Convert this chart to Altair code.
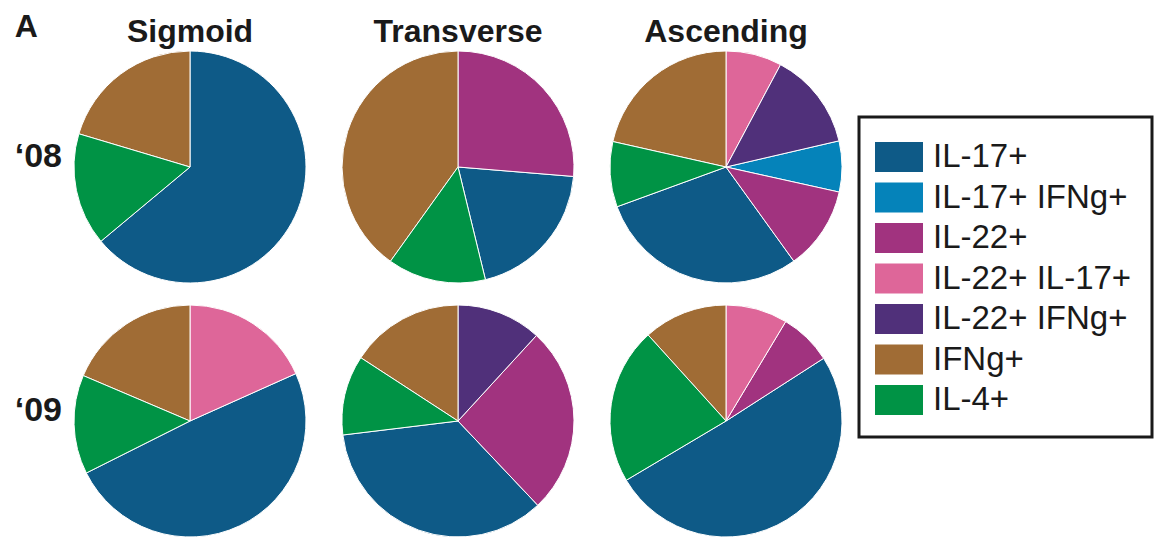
import altair as alt
import pandas as pd

sites = ["Sigmoid", "Transverse", "Ascending"]
years = ["\u201808", "\u201809"]
categories = ["IL-17+", "IL-17+ IFNg+", "IL-22+", "IL-22+ IL-17+", "IL-22+ IFNg+", "IFNg+", "IL-4+"]
colors = ["#0E5A87", "#0583BA", "#A1337F", "#DE6699", "#50307A", "#A06C35", "#009345"]
# clockwise order of slices from 12 o'clock
clockwise = ["IL-22+ IL-17+", "IL-22+ IFNg+", "IL-17+ IFNg+", "IL-22+", "IL-17+", "IL-4+", "IFNg+"]

# percentages per pie: Sigmoid'08, Transverse'08, Ascending'08, Sigmoid'09, Transverse'09, Ascending'09
il17 = [64.0, 19.9, 29.4, 49.3, 35.1, 50.5]
il17_ifng = [0, 0, 7.1, 0, 0, 0]
il22 = [0, 26.3, 11.6, 0, 26.1, 7.3]
il22_il17 = [0, 0, 7.8, 18.3, 0, 8.6]
il22_ifng = [0, 0, 13.6, 0, 11.8, 0]
ifng = [20.4, 40.1, 21.5, 18.6, 15.8, 11.7]
il4 = [15.7, 13.7, 9.1, 13.8, 11.1, 21.8]

series = {
    "IL-17+": il17,
    "IL-17+ IFNg+": il17_ifng,
    "IL-22+": il22,
    "IL-22+ IL-17+": il22_il17,
    "IL-22+ IFNg+": il22_ifng,
    "IFNg+": ifng,
    "IL-4+": il4,
}

rows = []
for i, (yr, st) in enumerate([(y, s) for y in years for s in sites]):
    for cat, vals in series.items():
        if vals[i] > 0:
            rows.append({"year": yr, "site": st, "subset": cat, "value": vals[i],
                         "ord": clockwise.index(cat)})
df = pd.DataFrame(rows)

FONT = "Liberation Sans"
INK = "#1a1a1a"

base = alt.Chart(df).mark_arc(outerRadius=116, stroke="white", strokeWidth=1).encode(
    theta=alt.Theta("value:Q", stack="normalize"),
    color=alt.Color(
        "subset:N",
        scale=alt.Scale(domain=categories, range=colors),
        legend=alt.Legend(
            title=None, orient="none", legendX=787, legendY=67,
            symbolType="M-1.2,-0.75H1.2V0.75H-1.2Z", symbolSize=1600,
            symbolStrokeWidth=0, symbolOpacity=1,
            labelFontSize=33, labelFont=FONT, labelColor=INK, labelLimit=400,
            labelOffset=14, padding=20, rowPadding=3.5, strokeColor=INK,
        ),
    ),
    order=alt.Order("ord:Q"),
).properties(width=236, height=234)

chart = base.facet(
    row=alt.Row("year:N", sort=years, title=None, header=alt.Header(
        labelOrient="left", labelAngle=0, labelAlign="left", labelBaseline="alphabetic",
        labelFontSize=34, labelFontWeight="bold", labelFont=FONT, labelColor=INK,
        labelPadding=10)),
    column=alt.Column("site:N", sort=sites, title=None, header=alt.Header(
        labelOrient="top", labelFontSize=32, labelFontWeight="bold", labelFont=FONT,
        labelColor=INK, labelPadding=0)),
    spacing={"row": 18, "column": 32},
).properties(
    title=alt.TitleParams("A", anchor="start", fontSize=32, fontWeight="bold", font=FONT,
                          color=INK, offset=0, dy=28),
    padding={"left": 14, "top": 11, "right": 5, "bottom": 0},
).configure_view(strokeWidth=0).configure_legend(strokeWidth=3)

chart.save("out.html", embed_options={"renderer": "svg", "actions": False})
